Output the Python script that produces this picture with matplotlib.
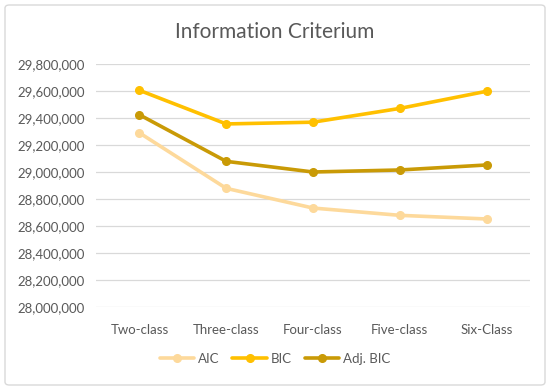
import matplotlib.pyplot as plt
from matplotlib.patches import FancyBboxPatch
from matplotlib.ticker import FuncFormatter, MultipleLocator

plt.rcParams['font.family'] = ['Lato', 'DejaVu Sans']

# data
classes = ['Two-class', 'Three-class', 'Four-class', 'Five-class', 'Six-Class']
aic = [29290000, 28879000, 28733000, 28679000, 28652000]
bic = [29605000, 29356000, 29369000, 29471000, 29598000]
adj_bic = [29424000, 29079000, 29000000, 29015000, 29052000]

series = [('AIC', aic, '#FDD99B'), ('BIC', bic, '#FFC000'), ('Adj. BIC', adj_bic, '#C99A06')]

fig = plt.figure(figsize=(5.5, 3.9), dpi=100)
ax = fig.add_axes([96 / 550, 1 - 307 / 390, (530 - 96) / 550, (307 - 64) / 390])

x = range(len(classes))
for name, vals, col in series:
    ax.plot(x, vals, color=col, lw=2.6, marker='o', ms=5.5, label=name, solid_capstyle='round')

ax.set_xlim(-0.5, len(classes) - 0.5)
ax.set_ylim(28000000, 29800000)
ax.yaxis.set_major_locator(MultipleLocator(200000))
ax.yaxis.set_major_formatter(FuncFormatter(lambda v, p: f'{v:,.0f}'))
ax.set_xticks(list(x))
ax.set_xticklabels(classes)
ax.grid(axis='y', color='#D9D9D9', lw=0.9)
ax.set_axisbelow(True)
for s in ax.spines.values():
    s.set_visible(False)
ax.tick_params(length=0, labelsize=9.5, colors='#595959')
ax.tick_params(axis='x', pad=12)
ax.tick_params(axis='y', pad=8)

fig.text(0.5, 1 - 32 / 390, 'Information Criterium', ha='center', va='center', fontsize=15, color='#595959')

leg = fig.legend(loc='center', bbox_to_anchor=(0.5, 1 - 359 / 390), ncol=3, frameon=False,
                 fontsize=9.5, handlelength=2.6, columnspacing=1.0, handletextpad=0.3)
for t in leg.get_texts():
    t.set_color('#595959')

border = FancyBboxPatch((5 / 550, 5 / 390), 540 / 550, 380 / 390, boxstyle='round,pad=0,rounding_size=0.008',
                        transform=fig.transFigure, fill=False, ec='#D9D9D9', lw=1.0)
fig.patches.append(border)

fig.savefig('out.png', dpi=100)
